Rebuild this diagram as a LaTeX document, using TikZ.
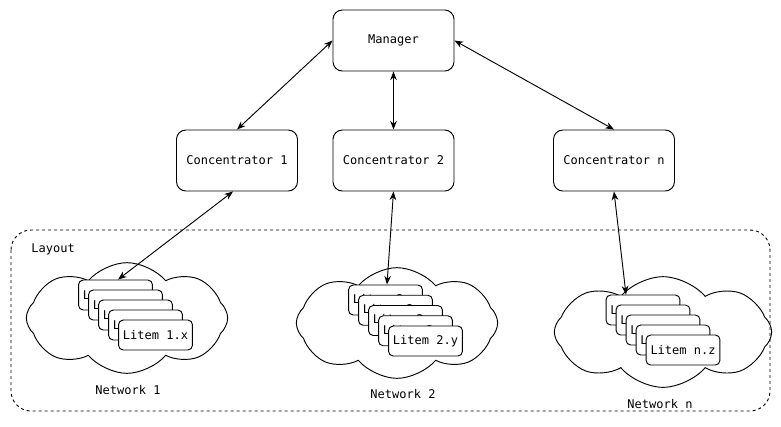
\documentclass[tikz,border=0pt]{standalone}
\usepackage{fontspec}
\setmainfont{DejaVu Sans Mono}
\usetikzlibrary{calc,arrows.meta,shapes.symbols}

\begin{document}
\begin{tikzpicture}[x=0.75pt,y=-0.75pt,line width=0.7pt,
        font=\fontsize{9}{11}\selectfont,
        >={Stealth[length=6.5pt,width=5pt]},
        box/.style={draw,rounded corners=7pt,minimum width=90.75pt,minimum height=45.75pt,fill=white},
        litem/.style={draw,rounded corners=3.5pt,minimum width=53pt,minimum height=22.5pt,fill=white},
        netcloud/.style={draw,cloud,cloud puffs=8,cloud puff arc=100,minimum width=151pt,minimum height=83pt}]
        \useasboundingbox (0,0) rectangle (781,426);

        % 上段 (マネージャとコンセントレータ)
        \node[box] (mgr) at (393.5,40.5) {Manager};
        \node[box] (c1) at (237,160.5) {Concentrator 1};
        \node[box] (c2) at (393.5,160.5) {Concentrator 2};
        \node[box] (cn) at (614,160.5) {Concentrator n};

        % レイアウト枠
        \draw[dash pattern=on 2.25pt off 2.25pt,rounded corners=15pt] (11,230) rectangle (770,411);
        \node[anchor=west] (lay) at (26.5,249) {Layout};

        % 雲 (ネットワーク)
        \node[netcloud] (cl1) at (127,318) {};
        \node (net1) at (128,390) {Network 1};
        \node[netcloud] (cl2) at (397,323) {};
        \node (net2) at (403,394) {Network 2};
        \node[netcloud,minimum width=163pt] (cln) at (663,332) {};
        \node (netn) at (660,404) {Network n};

        % Litem の束
        \foreach \i in {0,...,4}
            \node[litem] (l1-\i) at (115.5+10*\i,295+10*\i) {Litem 1.x};
        \foreach \i in {0,...,4}
            \node[litem] (l2-\i) at (385.5+10*\i,300+10.25*\i) {Litem 2.y};
        \foreach \i in {0,...,4}
            \node[litem] (ln-\i) at (643+10*\i,310+10*\i) {Litem n.z};

        % 矢印
        \draw[<->] (mgr.west) -- (c1.north);
        \draw[<->] (mgr.south) -- (c2.north);
        \draw[<->] (mgr.east) -- (cn.north);
        \draw[<->] ($(c1.south)+(-4,0)$) -- ($(l1-0.north)+(2.5,0)$);
        \draw[<->] (c2.south) -- ($(l2-0.north)+(1.5,0)$);
        \draw[<->] (cn.south) -- ($(ln-0.north)+(-17,0)$);
\end{tikzpicture}
\end{document}
